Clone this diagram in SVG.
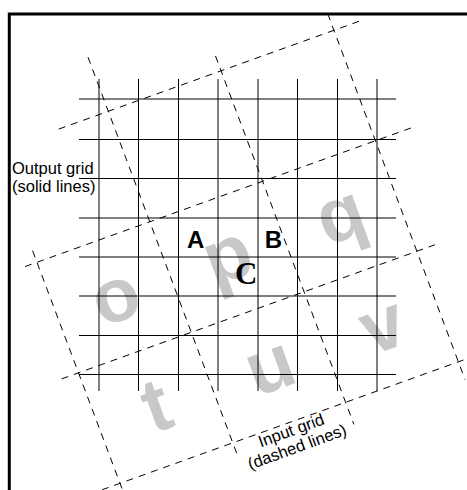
<svg xmlns="http://www.w3.org/2000/svg" width="467" height="490" viewBox="0 0 467 490">
<style>
.big{font-family:"Liberation Sans",Arial,sans-serif;font-weight:bold;font-size:76px;fill:#c8c8c8;text-anchor:middle}
.out line{stroke:#000;stroke-width:1}
.inp line{stroke:#000;stroke-width:1;stroke-dasharray:7 6}
.lbl{font-family:"Liberation Sans",Arial,sans-serif;font-size:16.5px;fill:#000}
.ab{font-family:"Liberation Sans",Arial,sans-serif;font-weight:bold;font-size:24px;fill:#000;text-anchor:middle}
</style>
<rect width="467" height="490" fill="#fff"/>
<g id="letters">
<text class="big" transform="translate(117,301) rotate(-20)" y="20">o</text>
<text class="big" transform="translate(229,260) rotate(-20)" y="20">p</text>
<text class="big" transform="translate(342,219.5) rotate(-20)" y="20">q</text>
<text class="big" transform="translate(158,411) rotate(-20)" y="20">t</text>
<text class="big" transform="translate(271.5,370.5) rotate(-20)" y="20">u</text>
<text class="big" transform="translate(384,330) rotate(-20)" y="20">v</text>
</g>
<g id="output-grid" class="out">
<line x1="99" y1="79" x2="99" y2="391"/>
<line x1="138.5" y1="79" x2="138.5" y2="391"/>
<line x1="178.5" y1="79" x2="178.5" y2="391"/>
<line x1="218" y1="79" x2="218" y2="391"/>
<line x1="258" y1="79" x2="258" y2="391"/>
<line x1="297.5" y1="79" x2="297.5" y2="391"/>
<line x1="337.5" y1="79" x2="337.5" y2="391"/>
<line x1="377" y1="79" x2="377" y2="391"/>
<line x1="79" y1="99" x2="396" y2="99"/>
<line x1="79" y1="139.5" x2="396" y2="139.5"/>
<line x1="79" y1="178.5" x2="396" y2="178.5"/>
<line x1="79" y1="218" x2="396" y2="218"/>
<line x1="79" y1="257" x2="396" y2="257"/>
<line x1="79" y1="296" x2="396" y2="296"/>
<line x1="79" y1="335.5" x2="396" y2="335.5"/>
<line x1="79" y1="374.5" x2="396" y2="374.5"/>
</g>
<g id="input-grid" class="inp">
<line x1="58.7" y1="129.1" x2="362.1" y2="20.2"/>
<line x1="25" y1="266.6" x2="411.5" y2="127.8"/>
<line x1="61.6" y1="378.9" x2="434.9" y2="244.8"/>
<line x1="102" y1="489.8" x2="467.4" y2="358.6"/>
<line x1="32.6" y1="250.7" x2="122.9" y2="491"/>
<line x1="88" y1="57.2" x2="236.7" y2="453.3"/>
<line x1="215.5" y1="56" x2="353.9" y2="424.4"/>
<line x1="327.7" y1="13.7" x2="465" y2="379.5"/>
</g>
<g id="labels">
<text class="ab" x="195.7" y="247.5">A</text>
<text class="ab" x="273.5" y="247.5">B</text>
<text x="246.3" y="283.5" style="font-family:'Liberation Serif','Times New Roman',serif;font-weight:bold;font-size:31px;text-anchor:middle">C</text>
<text class="lbl" x="12" y="174.3">Output grid</text>
<text class="lbl" x="12" y="191.8">(solid lines)</text>
<g transform="translate(293,435.7) rotate(-20)">
<text class="lbl" x="0" y="0" text-anchor="middle">Input grid</text>
<text class="lbl" x="0" y="17.5" text-anchor="middle">(dashed lines)</text>
</g>
</g>
<path id="frame" d="M9.3,490 V14 H467" fill="none" stroke="#000" stroke-width="3"/>
</svg>
